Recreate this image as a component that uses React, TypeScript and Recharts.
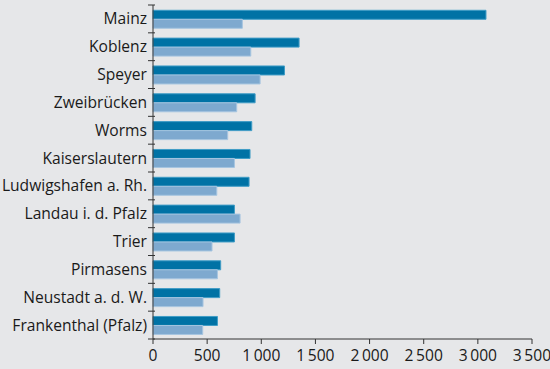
import React from 'react';
import { Bar, BarChart, XAxis, YAxis } from 'recharts';

const cities = [
  'Mainz',
  'Koblenz',
  'Speyer',
  'Zweibrücken',
  'Worms',
  'Kaiserslautern',
  'Ludwigshafen a. Rh.',
  'Landau i. d. Pfalz',
  'Trier',
  'Pirmasens',
  'Neustadt a. d. W.',
  'Frankenthal (Pfalz)',
];
const seriesA = [3075, 1349, 1214, 943, 912, 896, 887, 752, 752, 625, 616, 595];
const seriesB = [825, 903, 989, 773, 690, 752, 589, 804, 545, 595, 462, 459];
const xTicks = [0, 500, 1000, 1500, 2000, 2500, 3000, 3500];

const data = cities.map((name, i) => ({ name, a: seriesA[i], b: seriesB[i] }));

const W = 550;
const H = 369;
const TOP = 5;
const X_AXIS_H = 30;
const BAND = (H - TOP - X_AXIS_H) / cities.length;
const FONT = '"Open Sans", sans-serif';
const FS = 15.6;

const fmt = (v: number) =>
  v >= 1000 ? `${Math.floor(v / 1000)}\u2009${String(v % 1000).padStart(3, '0')}` : String(v);

// eslint-disable-next-line @typescript-eslint/no-explicit-any
const CityTick = (props: any) => {
  const { x, y, payload, index } = props;
  const axisX = x + 8;
  return (
    <g>
      <line x1={axisX - 7} x2={axisX} y1={y - BAND / 2} y2={y - BAND / 2} stroke="#333" />
      {index === cities.length - 1 && (
        <line x1={axisX - 7} x2={axisX} y1={y + BAND / 2} y2={y + BAND / 2} stroke="#333" />
      )}
      <text x={x} y={y} dy="0.35em" textAnchor="end" fontSize={FS} fontFamily={FONT} fill="#1a1a1a">
        {payload.value}
      </text>
    </g>
  );
};

export default function App() {
  return (
    <div style={{ position: 'absolute', left: 0, top: 0, width: W, height: H, background: '#e6e7e9' }}>
      <BarChart
        width={W}
        height={H}
        data={data}
        layout="vertical"
        margin={{ top: TOP, right: 18, bottom: 0, left: 0 }}
        barCategoryGap="19%"
        barGap={0}
      >
        <XAxis
          type="number"
          domain={[0, 3500]}
          ticks={xTicks}
          tickFormatter={fmt}
          height={X_AXIS_H}
          tickSize={5}
          tickMargin={6}
          stroke="#333"
          tick={{ fill: '#1a1a1a', fontSize: FS, fontFamily: FONT }}
          interval={0}
        />
        <YAxis
          type="category"
          dataKey="name"
          width={153}
          tickLine={false}
          tick={<CityTick />}
          tickMargin={0}
          stroke="#333"
          interval={0}
        />
        <Bar dataKey="a" fill="#0072a5" stroke="#3f9cc6" strokeWidth={1} isAnimationActive={false} />
        <Bar dataKey="b" fill="#7ea9cf" stroke="#a6c5e0" strokeWidth={1} isAnimationActive={false} />
      </BarChart>
    </div>
  );
}
